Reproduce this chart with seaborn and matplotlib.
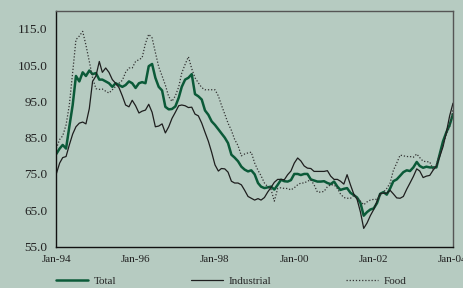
import pandas as pd
import numpy as np
import matplotlib
matplotlib.use("Agg")
import matplotlib.pyplot as plt
import matplotlib.dates as mdates
from matplotlib.ticker import FuncFormatter
import seaborn as sns

# monthly index values, Jan-94 .. Jan-04
total = [80.5, 82, 83, 82, 88, 94, 102, 100.5, 103, 102, 103.5, 102.5,
         102.8, 101, 101, 100.5, 100, 99, 100, 99.5, 99, 99.5, 100.5, 100,
         98.7, 100, 100.3, 100, 104.7, 105.3, 101.5, 99, 98, 93.5, 92.8, 92.9,
         93.6, 96, 99, 101, 101.5, 102.5, 97, 96.4, 95.5, 92.5, 91.3, 89.5,
         88.5, 87.3, 86.2, 85, 83.5, 80.3, 79.5, 78.5, 77, 76.2, 75.7, 76,
         74.9, 72.5, 71.5, 71.1, 71.3, 71.5, 70.7, 72, 73.4, 73, 72.9, 73.3,
         75, 75, 74.7, 75, 75, 73.5, 73.2, 72.9, 72.9, 73, 72.5, 72.2,
         72.9, 71.5, 70.6, 70.9, 71.1, 69.8, 69.2, 68.5, 67, 63.5, 64.5, 65.2,
         65.5, 67, 69.5, 70, 69.3, 71, 73, 73.5, 74.5, 75.5, 76, 75.8,
         76.8, 78.3, 77.2, 76.7, 77, 76.8, 76.8, 76.8, 80.5, 84, 86.5, 88.5,
         91.5]

industrial = [75, 78, 79.5, 79.8, 83, 86, 88, 89, 89.3, 88.8, 93, 100.5,
              102, 106, 103, 104.2, 103, 101, 100, 98.8, 96.5, 94, 93.5, 95.3,
              93.8, 91.8, 92.3, 92.6, 94.2, 92, 88, 88.2, 88.8, 86.3, 88, 90.3,
              92, 93.8, 94, 93.8, 93.3, 93.4, 91.5, 91, 89, 86.5, 84, 81,
              77.5, 75.8, 76.5, 76.4, 75.5, 73, 72.5, 72.5, 72, 70.5, 68.8, 68.3,
              67.8, 68.2, 67.8, 68.5, 70, 71.3, 72.7, 73.5, 73.5, 73.4, 74.8, 75.8,
              78, 79.4, 78.6, 77.2, 76.6, 76.5, 75.7, 75.7, 75.7, 75.7, 75.9, 74.4,
              73.5, 73.5, 73, 72.2, 74.8, 72, 69.5, 68, 64.5, 60, 61.5, 63.5,
              65.2, 67.5, 69.6, 69.7, 69.7, 70.5, 69.5, 68.4, 68.3, 68.8, 70.8, 72.5,
              74.3, 76.4, 75.8, 74, 74.4, 74.6, 76, 77.2, 79.8, 82.5, 86.5, 91,
              94.5]

food = [82, 84.5, 85.5, 88.5, 94, 103, 112, 113, 114.3, 110.5, 106, 101.5,
        98.5, 98.3, 98.4, 97.8, 97.3, 98.2, 99.1, 100, 100.8, 103, 104.2, 104.2,
        106, 106.5, 107, 111, 113.5, 112.5, 108.5, 104.5, 102, 99.5, 96.3, 95,
        96.5, 99, 102.8, 105.2, 107.3, 104, 101.5, 100.1, 98.8, 98.2, 98.2, 98.2,
        98.2, 96.5, 94, 91.5, 89, 87, 84.5, 82.8, 80, 80.5, 80.8, 81,
        78, 76, 74.5, 72.5, 71.5, 70.7, 67.5, 71, 71.2, 71, 71, 70.6,
        71.2, 72, 72.5, 72.5, 73, 73.4, 72, 70, 70, 70.2, 71.5, 72,
        72, 71, 69.5, 68.5, 68.3, 68.3, 69, 68.5, 67.5, 66.5, 67.3, 67.8,
        68, 68, 69, 70, 71, 72.5, 76, 78, 80.2, 80, 79.8, 79.8,
        79.6, 80.5, 79.5, 78.5, 78.4, 78.3, 76.3, 77.5, 80.5, 83, 86, 88,
        93]

dates = pd.date_range("1994-01-01", periods=len(total), freq="MS")
df = pd.DataFrame({"date": dates, "Total": total,
                   "Industrial": industrial, "Food": food})

bg = "#b6cbc1"
sns.set_style("white")
plt.rcParams["font.family"] = ["Liberation Serif", "DejaVu Serif"]
plt.rcParams["font.size"] = 8

fig = plt.figure(figsize=(4.64, 2.88), dpi=100, facecolor=bg)
ax = fig.add_axes([0.1213, 0.144, 0.855, 0.819])
ax.set_facecolor(bg)

sns.lineplot(data=df, x="date", y="Total", ax=ax, color="#0b5a38",
             linewidth=1.8, label="Total")
sns.lineplot(data=df, x="date", y="Industrial", ax=ax, color="#1e1e1e",
             linewidth=0.9, label="Industrial")
sns.lineplot(data=df, x="date", y="Food", ax=ax, color="#333333",
             linewidth=0.9, linestyle=(0, (1, 1.5)), label="Food")

ax.set_xlim(pd.Timestamp("1994-01-01"), pd.Timestamp("2004-01-01"))
ax.set_ylim(55, 120)
ax.set_yticks([55, 65, 75, 85, 95, 105, 115])
ax.yaxis.set_major_formatter(FuncFormatter(lambda v, p: f"{v:.1f}"))
ax.xaxis.set_major_locator(mdates.YearLocator(1))
ax.xaxis.set_major_formatter(FuncFormatter(
    lambda v, p: mdates.num2date(v).strftime("%b-%y")
    if mdates.num2date(v).year % 2 == 0 else ""))
ax.set_xlabel("")
ax.set_ylabel("")
ax.tick_params(direction="in", length=3, width=0.8, colors="#222",
               labelsize=8, pad=6)
ax.tick_params(axis="y", pad=6.5, labelsize=9.5)

for s in ["left", "bottom"]:
    ax.spines[s].set_color("#111")
    ax.spines[s].set_linewidth(1.0)
for s in ["top", "right"]:
    ax.spines[s].set_color("#555")
    ax.spines[s].set_linewidth(1.0)

ax.get_legend().remove()
h, l = ax.get_legend_handles_labels()
fig.legend(h, l, loc="center left", bbox_to_anchor=(0.121, 0.025),
           ncol=3, frameon=False, handlelength=2.9, handletextpad=0.5,
           columnspacing=6.7, borderpad=0, borderaxespad=0, fontsize=8)

fig.savefig("out.png", dpi=100, facecolor=bg)
